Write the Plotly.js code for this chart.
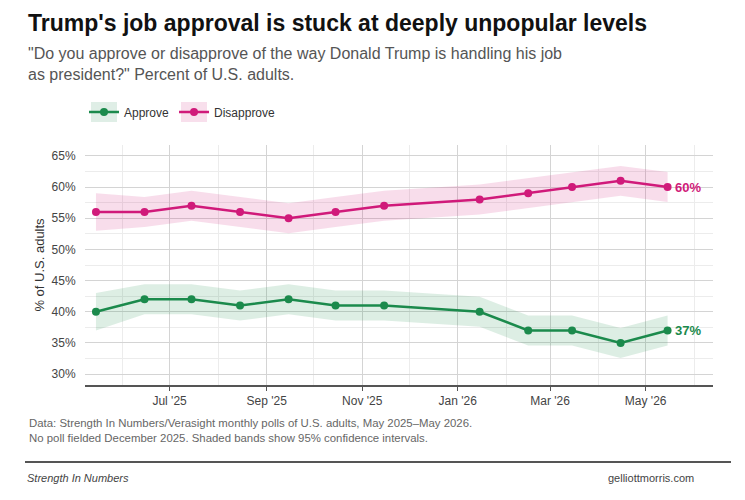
<!DOCTYPE html>
<html>
<head>
<meta charset="utf-8">
<script src="https://cdn.plot.ly/plotly-3.0.1.min.js"></script>
<style>html,body{margin:0;padding:0;background:#fff;}#chart{width:745px;height:500px;}</style>
</head>
<body>
<div id="chart"></div>
<script>
// Poll dates (monthly, mid-month; no poll in December 2025)
const pollDates = ["2025-05-15","2025-06-15","2025-07-15","2025-08-15","2025-09-15","2025-10-15","2025-11-15","2026-01-15","2026-02-15","2026-03-15","2026-04-15","2026-05-15"];
const approve = [40, 42, 42, 41, 42, 41, 41, 40, 37, 37, 35, 37];
const approveLow = [37.0, 39.6, 39.6, 38.6, 39.6, 38.6, 38.6, 37.6, 34.6, 34.6, 32.6, 34.6];
const approveHigh = [43.0, 44.4, 44.4, 43.4, 44.4, 43.4, 43.4, 42.4, 39.4, 39.4, 37.4, 39.4];
const disapprove = [56, 56, 57, 56, 55, 56, 57, 58, 59, 60, 61, 60];
const disapproveLow = [53.0, 53.6, 54.6, 53.6, 52.6, 53.6, 54.6, 55.6, 56.6, 57.6, 58.6, 57.6];
const disapproveHigh = [59.0, 58.4, 59.4, 58.4, 57.4, 58.4, 59.4, 60.4, 61.4, 62.4, 63.4, 62.4];
const yTicks = [30, 35, 40, 45, 50, 55, 60, 65];
const yTickText = yTicks.map(v => v + "%");

const GREEN = "#1b8a4c";
const PINK = "#d01a7a";
const FONT = "Liberation Sans, Arial, sans-serif";

// layout helpers: pixel -> paper coordinates
const L = 85, R = 32, T = 145, B = 115, W = 745, H = 500;
const px = p => (p - L) / (W - L - R);
const py = p => (H - B - p) / (H - T - B);

const traces = [
  {x: pollDates, y: approveLow, mode: "lines", line: {width: 0, color: GREEN}, showlegend: false, hoverinfo: "skip"},
  {x: pollDates, y: approveHigh, mode: "lines", line: {width: 0, color: GREEN}, fill: "tonexty", fillcolor: "rgba(27,138,76,0.15)", showlegend: false, hoverinfo: "skip"},
  {x: pollDates, y: disapproveLow, mode: "lines", line: {width: 0, color: PINK}, showlegend: false, hoverinfo: "skip"},
  {x: pollDates, y: disapproveHigh, mode: "lines", line: {width: 0, color: PINK}, fill: "tonexty", fillcolor: "rgba(208,26,122,0.15)", showlegend: false, hoverinfo: "skip"},
  {x: pollDates, y: approve, name: "Approve", mode: "lines+markers", line: {color: GREEN, width: 2.5}, marker: {color: GREEN, size: 8}},
  {x: pollDates, y: disapprove, name: "Disapprove", mode: "lines+markers", line: {color: PINK, width: 2.5}, marker: {color: PINK, size: 8}}
];

const last = pollDates.length - 1;

const layout = {
  width: W, height: H,
  margin: {l: L, r: R, t: T, b: B},
  paper_bgcolor: "#fff", plot_bgcolor: "#fff",
  font: {family: FONT, color: "#444"},
  showlegend: true,
  legend: {orientation: "h", x: px(84), xanchor: "left", y: py(112), yanchor: "middle", font: {size: 12, color: "#333"}, itemwidth: 30, traceorder: "normal", bgcolor: "rgba(0,0,0,0)"},
  xaxis: {
    type: "date", range: ["2025-05-08", "2026-06-13"],
    tick0: "2025-07-01", dtick: "M2", tickformat: "%b '%y",
    showgrid: true, gridcolor: "#d4d4d4", gridwidth: 1,
    minor: {dtick: "M1", showgrid: true, gridcolor: "#ececec", gridwidth: 1},
    showline: true, linecolor: "#555", linewidth: 1.5,
    ticks: "outside", ticklen: 4, tickcolor: "#555",
    tickfont: {size: 12, color: "#444"}, zeroline: false, fixedrange: true
  },
  yaxis: {
    range: [28.25, 66.75], tickvals: yTicks, ticktext: yTickText,
    showgrid: true, gridcolor: "#d4d4d4", gridwidth: 1,
    minor: {dtick: 2.5, tick0: 27.5, showgrid: true, gridcolor: "#ececec", gridwidth: 1},
    ticks: "outside", ticklen: 6, tickcolor: "rgba(0,0,0,0)",
    tickfont: {size: 12, color: "#444"}, zeroline: false, showline: false,
    title: {text: "% of U.S. adults", font: {size: 13, color: "#333"}, standoff: 4},
    automargin: false, fixedrange: true
  },
  shapes: [
    {type: "line", xref: "paper", yref: "paper", x0: px(25), x1: px(731), y0: py(462), y1: py(462), line: {color: "#555", width: 2}},
    // light key backgrounds behind legend symbols
    {type: "rect", xref: "paper", yref: "paper", layer: "above", x0: px(91), x1: px(117), y0: py(102), y1: py(122), fillcolor: "rgba(27,138,76,0.14)", line: {width: 0}},
    {type: "rect", xref: "paper", yref: "paper", layer: "above", x0: px(181), x1: px(207), y0: py(102), y1: py(122), fillcolor: "rgba(208,26,122,0.14)", line: {width: 0}}
  ],
  annotations: [
    {xref: "paper", yref: "paper", x: px(26), y: py(23), xanchor: "left", yanchor: "middle", showarrow: false,
     text: "<b>Trump's job approval is stuck at deeply unpopular levels</b>", font: {size: 23, color: "#111", family: FONT}},
    {xref: "paper", yref: "paper", x: px(26), y: py(64), xanchor: "left", yanchor: "middle", showarrow: false, align: "left",
     text: "\"Do you approve or disapprove of the way Donald Trump is handling his job<br>as president?\" Percent of U.S. adults.", font: {size: 16, color: "#555", family: FONT}},
    {xref: "paper", yref: "paper", x: px(27), y: py(430), xanchor: "left", yanchor: "middle", showarrow: false, align: "left",
     text: "Data: Strength In Numbers/Verasight monthly polls of U.S. adults, May 2025\u2013May 2026.<br>No poll fielded December 2025. Shaded bands show 95% confidence intervals.", font: {size: 11.4, color: "#666", family: FONT}},
    {xref: "paper", yref: "paper", x: px(25), y: py(478), xanchor: "left", yanchor: "middle", showarrow: false,
     text: "<i>Strength In Numbers</i>", font: {size: 11, color: "#444", family: FONT}},
    {xref: "paper", yref: "paper", x: px(696), y: py(478), xanchor: "right", yanchor: "middle", showarrow: false,
     text: "gelliottmorris.com", font: {size: 11, color: "#444", family: FONT}},
    {x: pollDates[last], y: disapprove[last], xref: "x", yref: "y", xanchor: "left", yanchor: "middle", xshift: 5, showarrow: false,
     text: "<b>" + disapprove[last] + "%</b>", font: {size: 13, color: PINK, family: FONT}},
    {x: pollDates[last], y: approve[last], xref: "x", yref: "y", xanchor: "left", yanchor: "middle", xshift: 5, showarrow: false,
     text: "<b>" + approve[last] + "%</b>", font: {size: 13, color: GREEN, family: FONT}}
  ]
};

Plotly.newPlot("chart", traces, layout, {staticPlot: true, displayModeBar: false});
</script>
</body>
</html>
